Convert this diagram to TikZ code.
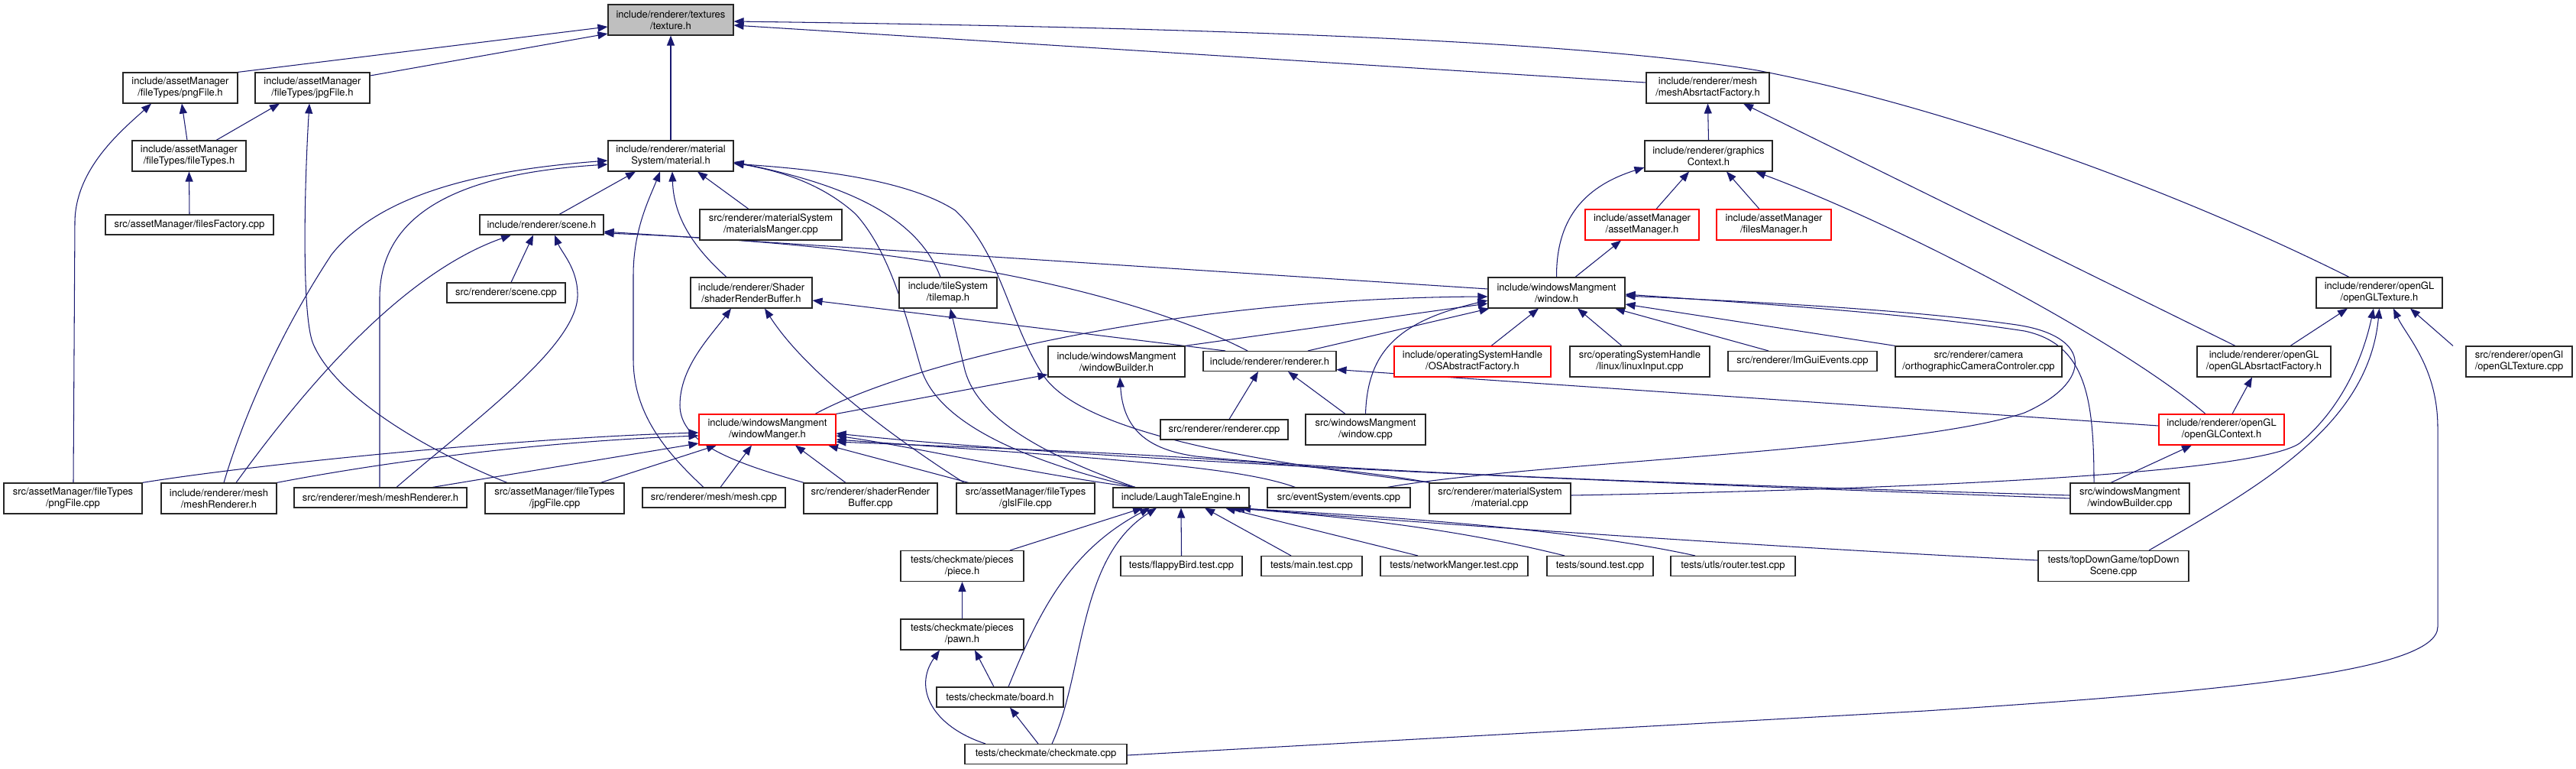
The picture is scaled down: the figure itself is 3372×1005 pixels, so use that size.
\documentclass[tikz,border=0pt]{standalone}
\usepackage{fontspec}
\setmainfont{TeX Gyre Heros}
\usetikzlibrary{arrows.meta}
\definecolor{edgec}{RGB}{25,25,112}
\definecolor{boxred}{RGB}{255,0,0}
\definecolor{focusgray}{RGB}{191,191,191}
\pgfdeclarelayer{bgl}
\pgfdeclarelayer{edges}
\pgfsetlayers{bgl,edges,main}
\begin{document}
\begin{tikzpicture}[x=1pt,y=-1pt,
  box/.style={draw=black!85, line width=1.1pt, fill=white, align=center, inner sep=0pt,
              font=\fontsize{13}{15}\selectfont, minimum height=40pt},
  one/.style={box, minimum height=26pt},
  redb/.style={draw=boxred},
  e/.style={draw=edgec, line width=1.05pt, -{Triangle[length=13pt,width=10pt]}},
]
\useasboundingbox (0,0) rectangle (3372,1005);
\begin{pgfonlayer}{bgl}
\fill[white] (0,0) rectangle (3372,1005);
\end{pgfonlayer}

% ---------- nodes ----------
\node[box, fill=focusgray, minimum width=164pt] (tex) at (878,26) {include/renderer/textures\\/texture.h};
\node[box, minimum width=150pt] (pngH) at (236,115) {include/assetManager\\/fileTypes/pngFile.h};
\node[box, minimum width=150pt] (jpgH) at (409,115) {include/assetManager\\/fileTypes/jpgFile.h};
\node[box, minimum width=161pt] (meshAF) at (2235.5,115) {include/renderer/mesh\\/meshAbsrtactFactory.h};
\node[box, minimum width=149pt] (ftH) at (247.5,204) {include/assetManager\\/fileTypes/fileTypes.h};
\node[box, minimum width=164pt] (matH) at (878,204) {include/renderer/material\\System/material.h};
\node[box, minimum width=167pt] (gcH) at (2236.5,204) {include/renderer/graphics\\Context.h};
\node[one, minimum width=220pt] (ffCpp) at (248,294) {src/assetManager/filesFactory.cpp};
\node[one, minimum width=162pt] (sceneH) at (709,294) {include/renderer/scene.h};
\node[box, minimum width=186pt] (mmCpp) at (1009,294) {src/renderer/materialSystem\\/materialsManger.cpp};
\node[box, redb, minimum width=149pt] (amH) at (2149.5,294) {include/assetManager\\/assetManager.h};
\node[box, redb, minimum width=150pt] (fmH) at (2322,294) {include/assetManager\\/filesManager.h};
\node[one, minimum width=155pt] (sceneCpp) at (662.5,383) {src/renderer/scene.cpp};
\node[box, minimum width=159pt] (srbH) at (983.5,383) {include/renderer/Shader\\/shaderRenderBuffer.h};
\node[box, minimum width=128pt] (tileH) at (1241,383) {include/tileSystem\\/tilemap.h};
\node[box, minimum width=179pt] (winH) at (2037.5,383) {include/windowsMangment\\/window.h};
\node[box, minimum width=165pt] (oglTexH) at (3114.5,383) {include/renderer/openGL\\/openGLTexture.h};
\node[box, minimum width=179pt] (wbH) at (1461.5,473) {include/windowsMangment\\/windowBuilder.h};
\node[one, minimum width=174pt] (rendH) at (1662,472.5) {include/renderer/renderer.h};
\node[box, redb, minimum width=205pt] (osH) at (1927.5,473) {include/operatingSystemHandle\\/OSAbstractFactory.h};
\node[box, minimum width=183pt] (liCpp) at (2146.5,473) {src/operatingSystemHandle\\/linux/linuxInput.cpp};
\node[one, minimum width=195pt] (imCpp) at (2359.5,472.5) {src/renderer/ImGuiEvents.cpp};
\node[box, minimum width=218pt] (orthoCpp) at (2590,473) {src/renderer/camera\\/orthographicCameraControler.cpp};
\node[box, minimum width=175pt] (oglAFH) at (2963.5,473) {include/renderer/openGL\\/openGLAbsrtactFactory.h};
\node[box, minimum width=139pt] (oglTexCpp) at (3297.5,473) {src/renderer/openGl\\/openGLTexture.cpp};
\node[box, redb, minimum width=179pt] (wmH) at (1004.5,562) {include/windowsMangment\\/windowManger.h};
\node[one, minimum width=167pt] (rendCpp) at (1602.5,562) {src/renderer/renderer.cpp};
\node[box, minimum width=157pt] (winCpp) at (1787.5,562) {src/windowsMangment\\/window.cpp};
\node[box, redb, minimum width=164pt] (oglCtxH) at (2908,562) {include/renderer/openGL\\/openGLContext.h};
\node[box, minimum width=181pt] (pngCpp) at (95.5,652) {src/assetManager/fileTypes\\/pngFile.cpp};
\node[box, minimum width=151pt] (mrH) at (286.5,652) {include/renderer/mesh\\/meshRenderer.h};
\node[one, minimum width=226pt] (smrH) at (498,651) {src/renderer/mesh/meshRenderer.h};
\node[box, minimum width=182pt] (jpgCpp) at (726,652) {src/assetManager/fileTypes\\/jpgFile.cpp};
\node[one, minimum width=187pt] (meshCpp) at (934.5,651) {src/renderer/mesh/mesh.cpp};
\node[box, minimum width=175pt] (srbCpp) at (1139.5,652) {src/renderer/shaderRender\\Buffer.cpp};
\node[box, minimum width=181pt] (glslCpp) at (1342.5,652) {src/assetManager/fileTypes\\/glslFile.cpp};
\node[one, minimum width=178pt] (lteH) at (1546,651) {include/LaughTaleEngine.h};
\node[one, minimum width=187pt] (evCpp) at (1752.5,651) {src/eventSystem/events.cpp};
\node[box, minimum width=185pt] (matCpp) at (1963.5,652) {src/renderer/materialSystem\\/material.cpp};
\node[box, minimum width=156pt] (wbCpp) at (2788,652) {src/windowsMangment\\/windowBuilder.cpp};
\node[box, minimum width=161pt] (pieceH) at (1259.5,740.5) {tests/checkmate/pieces\\/piece.h};
\node[one, minimum width=159pt] (fbCpp) at (1546.5,740.5) {tests/flappyBird.test.cpp};
\node[one, minimum width=132pt] (mainCpp) at (1717,740.5) {tests/main.test.cpp};
\node[one, minimum width=193pt] (nmCpp) at (1903.5,740.5) {tests/networkManger.test.cpp};
\node[one, minimum width=139pt] (sndCpp) at (2094.5,740.5) {tests/sound.test.cpp};
\node[one, minimum width=163pt] (rtCpp) at (2268.5,740.5) {tests/utls/router.test.cpp};
\node[box, minimum width=197pt] (tdCpp) at (2766.5,740.5) {tests/topDownGame/topDown\\Scene.cpp};
\node[box, minimum width=161pt] (pawnH) at (1259.5,830) {tests/checkmate/pieces\\/pawn.h};
\node[one, minimum width=166pt] (boardH) at (1309,912) {tests/checkmate/board.h};
\node[one, minimum width=212pt] (cmCpp) at (1369,986.5) {tests/checkmate/checkmate.cpp};

% ---------- edges ----------
\begin{pgfonlayer}{edges}
% texture.h
\draw[e] ([shift={(75,0)}]pngH.north) -- ([shift={(0,9)}]tex.west);
\draw[e] ([shift={(0,-16)}]jpgH.east) -- ([shift={(0,18)}]tex.west);
\draw[e] (matH.north) -- (tex.south);
\draw[e] ([shift={(0,-7)}]meshAF.west) -- ([shift={(0,7)}]tex.east);
\draw[e] ([shift={(-39.5,0)}]oglTexH.north) .. controls (2850,250) and (2550,140) .. (2300,92) .. controls (2050,50) and (1500,35) .. ([shift={(0,2)}]tex.east);
% pngFile.h / jpgFile.h / fileTypes.h
\draw[e] ([shift={(-2.5,0)}]ftH.north) -- ([shift={(2,0)}]pngH.south);
\draw[e] ([shift={(0.5,0)}]pngCpp.north) -- (98,290) .. controls (99,220) and (160,170) .. ([shift={(-38,0)}]pngH.south);
\draw[e] ([shift={(35.5,0)}]ftH.north) -- ([shift={(-43,0)}]jpgH.south);
\draw[e] ([shift={(-62,0)}]jpgCpp.north) .. controls (560,590) and (440,520) .. (410,450) .. controls (395,415) and (398,250) .. ([shift={(-4,0)}]jpgH.south);
\draw[e] (ffCpp.north) -- (ftH.south);
% material.h
\draw[e] ([shift={(6.5,0)}]mrH.north) .. controls (320,540) and (370,430) .. (434,333) .. controls (500,250) and (640,222) .. ([shift={(0,6)}]matH.west);
\draw[e] ([shift={(-1,0)}]smrH.north) -- (497,390) .. controls (497,260) and (640,225) .. ([shift={(0,11)}]matH.west);
\draw[e] ([shift={(-13.5,0)}]meshCpp.north) .. controls (870,590) and (829,540) .. (829,470) -- (829,360) .. controls (829,300) and (850,260) .. ([shift={(-14,0)}]matH.south);
\draw[e] ([shift={(-32.5,0)}]srbH.north) .. controls (915,330) and (882,290) .. ([shift={(2,0)}]matH.south);
\draw[e] ([shift={(-29,0)}]mmCpp.north) -- ([shift={(35,0)}]matH.south);
\draw[e] ([shift={(23,0)}]sceneH.north) -- ([shift={(-46,0)}]matH.south);
\draw[e] ([shift={(-10,0)}]tileH.north) .. controls (1200,280) and (1100,240) .. ([shift={(0,8)}]matH.east);
\draw[e] ([shift={(-60,0)}]lteH.north) .. controls (1330,600) and (1225,550) .. (1205,480) .. controls (1185,410) and (1165,330) .. (1120,280) .. controls (1070,235) and (1010,222) .. ([shift={(0,9)}]matH.east);
\draw[e] ([shift={(-91,0)}]matCpp.north) .. controls (1700,610) and (1420,575) .. (1365,490) .. controls (1320,420) and (1310,330) .. (1250,275) .. controls (1180,230) and (1040,220) .. ([shift={(0,10)}]matH.east);
% scene.h
\draw[e] ([shift={(6.5,0)}]sceneCpp.north) -- ([shift={(-11,0)}]sceneH.south);
\draw[e] ([shift={(22.5,0)}]mrH.north) .. controls (390,520) and (520,360) .. ([shift={(-40,0)}]sceneH.south);
\draw[e] ([shift={(21,0)}]smrH.north) .. controls (620,550) and (760,450) .. (756,383) .. controls (755,350) and (735,330) .. ([shift={(17,0)}]sceneH.south);
\draw[e] ([shift={(0,-5)}]winH.west) -- ([shift={(0,9)}]sceneH.east);
\draw[e] ([shift={(-29,0)}]rendH.north) .. controls (1480,380) and (1200,320) .. ([shift={(0,11)}]sceneH.east);
% shaderRenderBuffer.h
\draw[e] ([shift={(-58,0)}]rendH.north) -- ([shift={(0,10)}]srbH.east);
\draw[e] ([shift={(-87,0)}]srbCpp.north) .. controls (960,605) and (890,580) .. (890,530) .. controls (890,480) and (930,440) .. ([shift={(-26.5,0)}]srbH.south);
\draw[e] ([shift={(-80.5,0)}]glslCpp.north) .. controls (1150,560) and (1050,480) .. ([shift={(17.5,0)}]srbH.south);
% tilemap.h
\draw[e] ([shift={(-60,0)}]lteH.north) .. controls (1350,590) and (1275,540) .. (1262,480) -- ([shift={(3,0)}]tileH.south);
% windowBuilder.h
\draw[e] ([shift={(90,0)}]wmH.north) -- ([shift={(0,17)}]wbH.west);
\draw[e] ([shift={(0,-4)}]wbCpp.west) .. controls (2300,636) and (1800,620) .. (1566,597) .. controls (1500,588) and (1470,560) .. ([shift={(4.5,0)}]wbH.south);
% renderer.h
\draw[e] ([shift={(6.5,0)}]rendCpp.north) -- ([shift={(-15,0)}]rendH.south);
\draw[e] ([shift={(-26.5,0)}]winCpp.north) -- ([shift={(24,0)}]rendH.south);
\draw[e] ([shift={(0,-5)}]oglCtxH.west) -- ([shift={(0,11)}]rendH.east);
% window.h
\draw[e] ([shift={(50,0)}]rendH.north) -- ([shift={(-88,0)}]winH.south);
\draw[e] ([shift={(89.5,0)}]wbH.north) -- ([shift={(0,14)}]winH.west);
\draw[e] ([shift={(62.5,0)}]wmH.north) .. controls (1200,470) and (1550,390) .. ([shift={(0,5)}]winH.west);
\draw[e] (winCpp.north) .. controls (1790,460) and (1830,420) .. ([shift={(0,10)}]winH.west);
\draw[e] ([shift={(24.5,0)}]osH.north) -- ([shift={(-23.5,0)}]winH.south);
\draw[e] ([shift={(-23.5,0)}]liCpp.north) -- ([shift={(27.5,0)}]winH.south);
\draw[e] ([shift={(-44.5,0)}]imCpp.north) -- ([shift={(76.5,0)}]winH.south);
\draw[e] ([shift={(-109,0)}]orthoCpp.north) -- ([shift={(0,15)}]winH.east);
\draw[e] ([shift={(63.5,0)}]evCpp.north) .. controls (2000,605) and (2500,590) .. (2650,540) .. controls (2740,500) and (2740,440) .. (2640,425) .. controls (2500,405) and (2300,395) .. ([shift={(0,4)}]winH.east);
\draw[e] ([shift={(-47,0)}]wbCpp.north) .. controls (2741,520) and (2730,450) .. (2650,433) .. controls (2500,410) and (2300,397) .. ([shift={(0,2)}]winH.east);
% graphicsContext.h / assetManager.h
\draw[e] (winH.north) .. controls (2037,290) and (2070,245) .. ([shift={(0,15)}]gcH.west);
\draw[e] ([shift={(24.5,0)}]winH.north) -- ([shift={(-27.5,0)}]amH.south);
\draw[e] ([shift={(18.5,0)}]amH.north) -- ([shift={(-25.5,0)}]gcH.south);
\draw[e] ([shift={(-19,0)}]fmH.north) -- ([shift={(23.5,0)}]gcH.south);
\draw[e] ([shift={(-21,0)}]oglCtxH.north) .. controls (2780,450) and (2500,300) .. ([shift={(61.5,0)}]gcH.south);
% meshAbsrtactFactory.h
\draw[e] (gcH.north) -- (meshAF.south);
\draw[e] ([shift={(-37.5,0)}]oglAFH.north) -- ([shift={(46.5,0)}]meshAF.south);
% openGL
\draw[e] ([shift={(34.5,0)}]oglAFH.north) -- ([shift={(-41.5,0)}]oglTexH.south);
\draw[e] ([shift={(14,0)}]oglCtxH.north) -- ([shift={(-15.5,0)}]oglAFH.south);
\draw[e] ([shift={(-25,0)}]wbCpp.north) -- ([shift={(-39,0)}]oglCtxH.south);
\draw[e] ([shift={(0,-4)}]matCpp.east) .. controls (2500,640) and (2950,620) .. (3010,580) .. controls (3070,530) and (3095,460) .. ([shift={(-7.5,0)}]oglTexH.south);
\draw[e] ([shift={(46.5,0)}]tdCpp.north) .. controls (2950,640) and (3100,560) .. (oglTexH.south);
\draw[e] ([shift={(0,1.5)}]cmCpp.east) -- (2520,930) .. controls (2900,905) and (3191,880) .. (3191,820) -- (3191,560) .. controls (3191,480) and (3150,440) .. ([shift={(18.5,0)}]oglTexH.south);
\draw[e] ([shift={(-86.5,0)}]oglTexCpp.north) -- ([shift={(40.5,0)}]oglTexH.south);
% windowManger.h
\draw[e] ([shift={(90.5,0)}]pngCpp.north) .. controls (350,605) and (700,572) .. ([shift={(0,4)}]wmH.west);
\draw[e] ([shift={(75.5,0)}]mrH.north) .. controls (500,605) and (700,578) .. ([shift={(0,8)}]wmH.west);
\draw[e] ([shift={(68,0)}]smrH.north) -- ([shift={(0,18)}]wmH.west);
\draw[e] ([shift={(60,0)}]jpgCpp.north) -- ([shift={(-66.5,0)}]wmH.south);
\draw[e] ([shift={(8.5,0)}]meshCpp.north) -- ([shift={(-20.5,0)}]wmH.south);
\draw[e] ([shift={(-32.5,0)}]srbCpp.north) -- ([shift={(36.5,0)}]wmH.south);
\draw[e] ([shift={(-74.5,0)}]glslCpp.north) -- ([shift={(79.5,0)}]wmH.south);
\draw[e] ([shift={(-60,0)}]lteH.north) .. controls (1350,620) and (1200,585) .. ([shift={(0,8)}]wmH.east);
\draw[e] ([shift={(-57,0)}]evCpp.north) .. controls (1620,610) and (1450,600) .. ([shift={(0,13)}]wmH.east);
\draw[e] ([shift={(-91,0)}]matCpp.north) .. controls (1700,600) and (1400,590) .. ([shift={(0,16)}]wmH.east);
\draw[e] (wbCpp.west) .. controls (2400,640) and (1500,610) .. ([shift={(0,5)}]wmH.east);
% LaughTaleEngine.h
\draw[e] ([shift={(62.5,0)}]pieceH.north) -- ([shift={(-50,0)}]lteH.south);
\draw[e] ([shift={(11,0)}]boardH.north) .. controls (1360,800) and (1400,720) .. ([shift={(-41,0)}]lteH.south);
\draw[e] ([shift={(8,0)}]cmCpp.north) .. controls (1420,880) and (1410,730) .. ([shift={(-32,0)}]lteH.south);
\draw[e] (fbCpp.north) -- (lteH.south);
\draw[e] ([shift={(-27,0)}]mainCpp.north) -- ([shift={(31,0)}]lteH.south);
\draw[e] ([shift={(-47.5,0)}]nmCpp.north) -- ([shift={(58,0)}]lteH.south);
\draw[e] ([shift={(-46.5,0)}]sndCpp.north) .. controls (1900,690) and (1750,675) .. ([shift={(65,0)}]lteH.south);
\draw[e] ([shift={(-49.5,0)}]rtCpp.north) .. controls (2050,690) and (1800,675) .. ([shift={(70,0)}]lteH.south);
\draw[e] ([shift={(0,-7.5)}]tdCpp.west) .. controls (2300,715) and (1800,680) .. ([shift={(78,0)}]lteH.south);
% checkmate
\draw[e] (pawnH.north) -- (pieceH.south);
\draw[e] ([shift={(-8,0)}]boardH.north) -- ([shift={(16.5,0)}]pawnH.south);
\draw[e] ([shift={(-79,0)}]cmCpp.north) .. controls (1220,950) and (1195,900) .. ([shift={(-29.5,0)}]pawnH.south);
\draw[e] ([shift={(-10,0)}]cmCpp.north) -- ([shift={(13,0)}]boardH.south);
\end{pgfonlayer}
\end{tikzpicture}
\end{document}
